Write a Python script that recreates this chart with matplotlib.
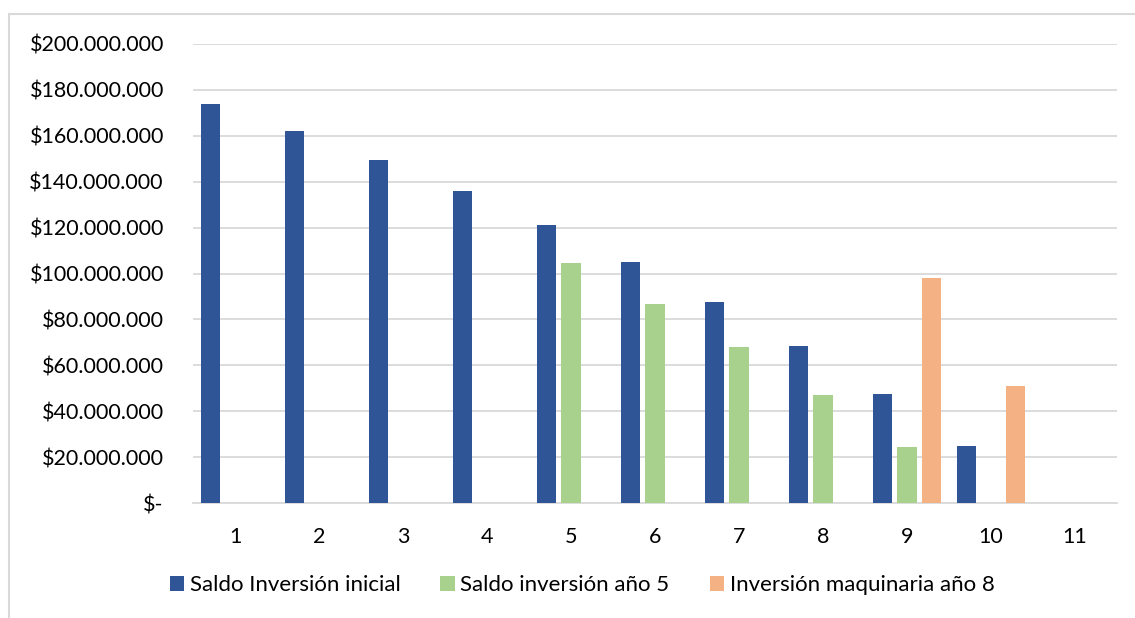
import numpy as np
import matplotlib
matplotlib.use("Agg")
import matplotlib.pyplot as plt
from matplotlib.patches import Rectangle
from matplotlib.ticker import FuncFormatter, MultipleLocator

plt.rcParams['font.family'] = ['Lato', 'DejaVu Sans']

# Years and balances (COP)
years = [1, 2, 3, 4, 5, 6, 7, 8, 9, 10, 11]
saldo_inicial = [173_700_000, 162_100_000, 149_600_000, 136_100_000, 121_300_000,
                 105_000_000, 87_400_000, 68_300_000, 47_400_000, 24_700_000, None]
saldo_anio5 = [None, None, None, None, 104_400_000, 86_900_000, 67_800_000,
               47_100_000, 24_300_000, None, None]
maquinaria_anio8 = [None, None, None, None, None, None, None, None,
                    97_900_000, 51_000_000, None]

series = [
    ("Saldo Inversión inicial", saldo_inicial, "#2F5597"),
    ("Saldo inversión año 5", saldo_anio5, "#A9D18E"),
    ("Inversión maquinaria año 8", maquinaria_anio8, "#F4B183"),
]

W, H = 1135, 618
fig = plt.figure(figsize=(W / 100, H / 100), dpi=100)
ax = fig.add_axes([193 / W, 1 - 503 / H, (1117 - 193) / W, (503 - 44) / H])

x = np.arange(len(years))
bar_w = 0.235
step = 0.292
for i, (name, vals, color) in enumerate(series):
    xs = [x[j] + (i - 1) * step for j, v in enumerate(vals) if v is not None]
    hs = [v for v in vals if v is not None]
    ax.bar(xs, hs, width=bar_w, color=color, label=name, zorder=3, linewidth=0)

ax.set_xlim(-0.5, len(years) - 0.5)
ax.set_ylim(0, 200_000_000)
ax.yaxis.set_major_locator(MultipleLocator(20_000_000))


def money(v, pos):
    if v == 0:
        return "$-"
    return "$" + f"{v:,.0f}".replace(",", ".")


ax.yaxis.set_major_formatter(FuncFormatter(money))
ax.set_xticks(x)
ax.set_xticklabels([str(y) for y in years])

ax.grid(axis="y", color="#D9D9D9", linewidth=1.3, zorder=0)
ax.set_axisbelow(True)
for s in ["top", "right", "left"]:
    ax.spines[s].set_visible(False)
ax.spines["bottom"].set_color("#D9D9D9")
ax.spines["bottom"].set_linewidth(1.3)
ax.tick_params(axis="both", length=0, labelsize=15.5, labelcolor="black")
ax.tick_params(axis="y", pad=21)
ax.tick_params(axis="x", pad=17)

# chart area border
fig.patches.append(Rectangle((9 / W, -0.1), 1.5, (H - 14) / H + 0.1,
                             transform=fig.transFigure, fill=False,
                             edgecolor="#D9D9D9", linewidth=1.5))

fig.legend(loc="center", bbox_to_anchor=(582 / W, 1 - 585 / H), ncol=3,
           frameon=False, fontsize=16, handlelength=0.65, handleheight=0.65,
           handletextpad=0.25, columnspacing=1.8, borderaxespad=0)

fig.savefig("out.png", dpi=100)
